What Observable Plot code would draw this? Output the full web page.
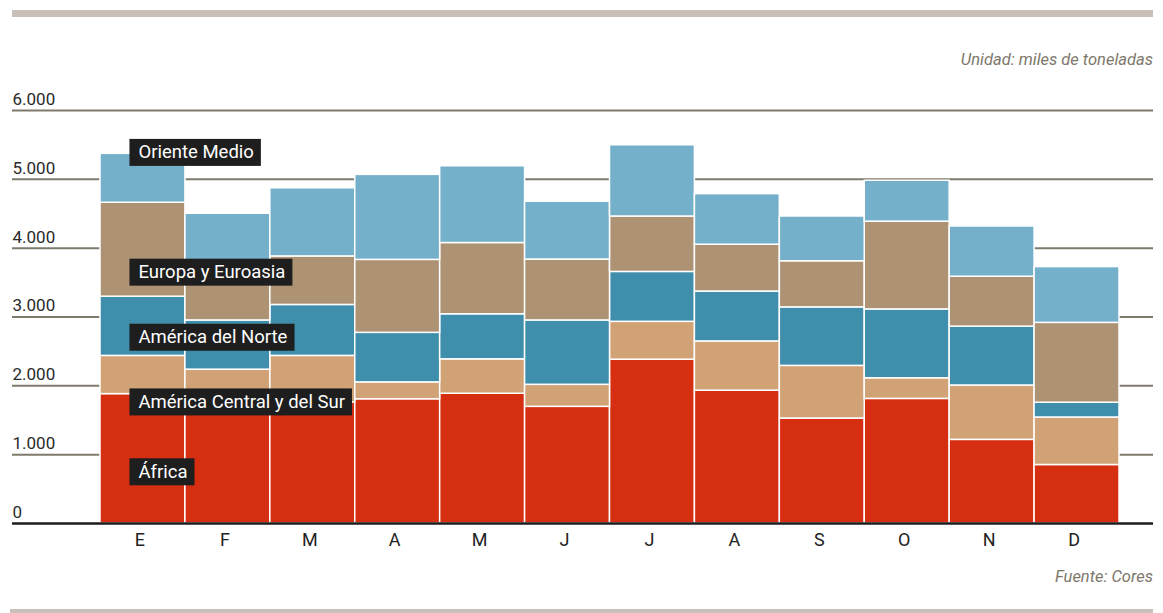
<!DOCTYPE html>
<html>
<head>
<meta charset="utf-8">
<script src="https://cdn.jsdelivr.net/npm/d3@7"></script>
<script src="https://cdn.jsdelivr.net/npm/@observablehq/plot@0.6"></script>
<style>
  html, body { margin: 0; padding: 0; background: #fff; }
  body { font-family: Roboto, "Noto Sans", sans-serif; }
  #wrap { position: relative; width: 1163px; height: 613px; overflow: hidden; }
  .bar-rule { position: absolute; left: 12px; width: 1141px; background: #c9c1b9; }
  .note { position: absolute; right: 10px; font-style: italic; color: #7d776a; font-size: 16.5px; line-height: 20px; white-space: nowrap; }
  #chart { position: absolute; left: 0; top: 85px; }
</style>
</head>
<body>
<div id="wrap">
  <div class="bar-rule" style="top:10px;height:7px"></div>
  <div class="note" style="top:50px">Unidad: miles de toneladas</div>
  <div id="chart"></div>
  <div class="note" style="top:567px">Fuente: Cores</div>
  <div class="bar-rule" style="top:609px;height:4px;left:10px;width:1143px"></div>
</div>
<script>
// ---- Data (miles de toneladas) ----
const months = ["Ene","Feb","Mar","Abr","May","Jun","Jul","Ago","Sep","Oct","Nov","Dic"];
const monthLetters = ["E","F","M","A","M","J","J","A","S","O","N","D"];
const series = ["África","América Central y del Sur","América del Norte","Europa y Euroasia","Oriente Medio"];
const africa       = [1880,1800,1760,1805,1885,1695,2380,1930,1525,1810,1215, 850];
const centralSur   = [ 555, 435, 675, 245, 500, 320, 550, 715, 765, 300, 790, 690];
const norte        = [ 860, 715, 740, 720, 655, 935, 725, 725, 850,1000, 855, 215];
const europa       = [1365, 700, 705,1060,1035, 885, 805, 680, 670,1275, 725,1160];
const orienteMedio = [ 710, 850, 990,1235,1115, 840,1035, 735, 650, 595, 730, 810];
const yTicks = [0,1000,2000,3000,4000,5000,6000];
// annotation placement of the region labels (in data units)
const labelY = [750, 1765, 2705, 3650, 5390];

const colors = ["#d52e11","#d0a276","#3f8eab","#ae9274","#74b0c9"];
const values = [africa, centralSur, norte, europa, orienteMedio];
const table = series.flatMap((s, i) => values[i].map((v, j) => ({month: months[j], series: s, value: v})));

const loc = d3.formatLocale({decimal: ",", thousands: ".", grouping: [3], currency: ["", " €"]});
const fmt = loc.format(",");

const plot = Plot.plot({
  width: 1163,
  height: 470,
  marginLeft: 12,
  marginRight: 10,
  marginTop: 25,
  marginBottom: 32,
  x: {type: "band", domain: months, range: [100, 1119], padding: 0, round: false},
  y: {domain: [0, 6000], axis: null},
  color: {domain: series, range: colors},
  style: {fontFamily: "Roboto, 'Noto Sans', sans-serif", background: "transparent", overflow: "visible"},
  marks: [
    Plot.ruleY(yTicks.filter(d => d > 0), {stroke: "#7e7a6b", strokeWidth: 2}),
    Plot.barY(table, {x: "month", y: "value", fill: "series", order: series, stroke: "white", strokeWidth: 1.5}),
    Plot.ruleY([0], {stroke: "#1c1c1c", strokeWidth: 2.5}),
    Plot.text(yTicks, {y: d => d, frameAnchor: "left", textAnchor: "start", dy: -11, text: d => fmt(d), fontSize: 17, fill: "#2a2a2a"}),
    Plot.axisX({tickSize: 0, tickPadding: 10, dx: -3, fontSize: 18, fill: "#222", tickFormat: d => monthLetters[months.indexOf(d)], label: null}),
    Plot.text(series, {x: () => months[0], y: (d, i) => labelY[i], text: d => d, textAnchor: "start", dx: -4.5, fill: "white", fontSize: 18.5, className: "region-label"})
  ]
});

document.getElementById("chart").appendChild(plot);

// black boxes behind region labels
const svgNS = "http://www.w3.org/2000/svg";
plot.querySelectorAll("g.region-label text").forEach(t => {
  const b = t.getBBox();
  const r = document.createElementNS(svgNS, "rect");
  const cy = b.y + b.height / 2;
  r.setAttribute("x", b.x - 9);
  r.setAttribute("y", cy - 13.5);
  r.setAttribute("width", b.width + 16);
  r.setAttribute("height", 27);
  r.setAttribute("fill", "#1e1e1e");
  const tr = t.getAttribute("transform");
  if (tr) r.setAttribute("transform", tr);
  t.parentNode.insertBefore(r, t);
});
</script>
</body>
</html>
